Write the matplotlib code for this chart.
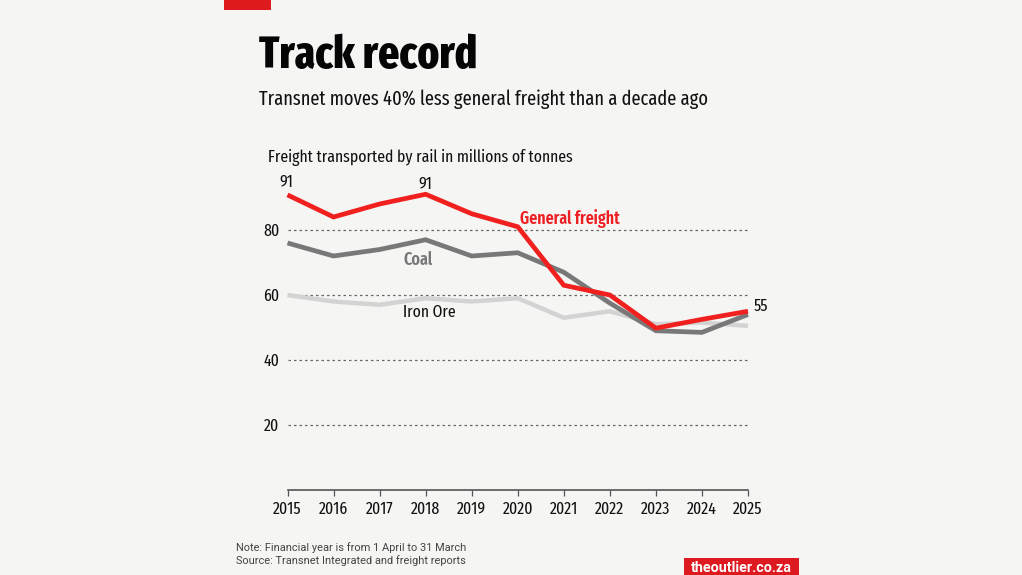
import matplotlib
matplotlib.use("Agg")
import matplotlib.pyplot as plt
from matplotlib.patches import Rectangle

years = list(range(2015, 2026))
general = [90.8, 84, 88, 91, 85, 81, 63, 60, 49.8, 52.5, 55]
coal = [76, 72, 74, 77, 72, 73, 67, 57.5, 49, 48.5, 54]
iron = [60, 58, 57, 59, 58, 59, 53, 55, 51, 51.5, 50.5]
yticks = [20, 40, 60, 80]

narrow = ["Fira Sans Extra Condensed", "Fira Sans Condensed", "Roboto", "DejaVu Sans"]
W, H = 1022, 575
BG = "#f5f5f4"
fig = plt.figure(figsize=(W/100, H/100), dpi=100, facecolor=BG)
x0, x1, y0, y1 = 287.5, 748, 490, 165
ax = fig.add_axes([x0/W, 1-y0/H, (x1-x0)/W, (y0-y1)/H], facecolor="none")
ax.set_xlim(2015, 2025)
ax.set_ylim(0, (y0-y1)/3.25)

for v in yticks:
    ax.axhline(v, color="#666666", lw=0.9, dashes=(2, 2.4), zorder=1)
ax.plot(years, iron, color="#d3d3d3", lw=3.2, solid_joinstyle="miter", solid_capstyle="butt", zorder=2, clip_on=False)
ax.plot(years, coal, color="#787878", lw=3.4, solid_joinstyle="miter", solid_capstyle="butt", zorder=3, clip_on=False)
ax.plot(years, general, color="#f0201f", lw=3.4, solid_joinstyle="miter", solid_capstyle="butt", zorder=4, clip_on=False)

for s in ("top", "left", "right"):
    ax.spines[s].set_visible(False)
ax.spines["bottom"].set_color("#555555")
ax.spines["bottom"].set_linewidth(1.2)
ax.set_xticks(years)
ax.set_yticks(yticks)
ax.tick_params(axis="x", length=4, width=0.9, color="#555555", pad=4,
               labelsize=12.4, labelcolor="#111111")
ax.tick_params(axis="y", length=0, pad=6, labelsize=12.4, labelcolor="#111111")
for t in ax.get_xticklabels() + ax.get_yticklabels():
    t.set_fontfamily(narrow)

def txt(px, py, s, **kw):
    fig.text(px/W, 1-py/H, s, family=kw.pop("family", narrow), **kw)

fig.add_artist(Rectangle((224/W, 1-10/H), 47/W, 10/H, transform=fig.transFigure, color="#e01b1f", lw=0))
txt(259, 68, "Track record", fontsize=32.1, fontweight=800, color="#050505", va="baseline")
txt(259, 105, "Transnet moves 40% less general freight than a decade ago", fontsize=14.45, color="#111111", va="baseline")
txt(268, 162, "Freight transported by rail in millions of tonnes", fontsize=12.3, color="#111111", va="baseline")

ax.annotate("91", (2015, general[0]), xytext=(-1, 3), textcoords="offset points", ha="center", va="bottom",
            fontsize=12.4, family=narrow, color="#111111")
ax.annotate("91", (2018, general[3]), xytext=(0, 1.5), textcoords="offset points", ha="center", va="bottom",
            fontsize=12.4, family=narrow, color="#111111")
ax.annotate("55", (2025, general[-1]), xytext=(4, -2), textcoords="offset points", ha="left", va="bottom",
            fontsize=12.4, family=narrow, color="#111111", annotation_clip=False)

txt(520, 224, "General freight", fontsize=12.4, fontweight=600, color="#ee1f23", va="baseline")
txt(403, 265, "Coal", fontsize=12.6, fontweight=600, color="#787878", va="baseline")
txt(403, 317, "Iron Ore", fontsize=12.3, color="#111111", va="baseline")

txt(236, 551, "Note: Financial year is from 1 April to 31 March", family="Roboto", fontsize=7.9, color="#444444", va="baseline")
txt(236, 564, "Source: Transnet Integrated and freight reports", family="Roboto", fontsize=7.9, color="#444444", va="baseline")

fig.add_artist(Rectangle((684/W, 0), 115/W, 17/H, transform=fig.transFigure, color="#dd1a1f", lw=0))
txt(741.5, 566, "theoutlier.co.za", family="Roboto", fontsize=10.3, fontweight="bold", color="white", ha="center", va="center_baseline")

fig.savefig("out.png", dpi=100, facecolor=BG)
